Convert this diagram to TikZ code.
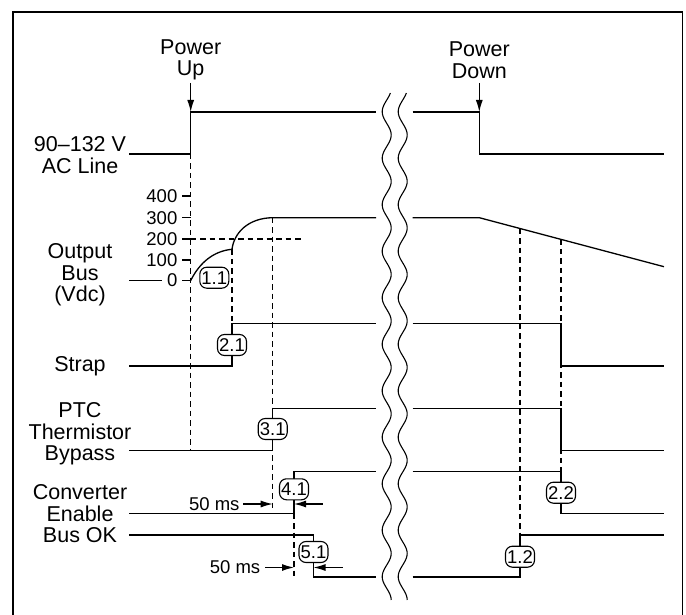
\documentclass[tikz,border=0pt]{standalone}
\usepackage{fontspec}
\setmainfont{Liberation Sans}
\usetikzlibrary{arrows.meta}
\begin{document}
\begin{tikzpicture}[x=1pt,y=-1pt,
  sig/.style={line width=1.3pt, line join=miter},
  wav/.style={line width=1.1pt},
  refl/.style={line width=1.1pt, dash pattern=on 5.5pt off 4pt},
  frm/.style={line width=1.8pt},
  lbl/.style={font=\fontsize{21.5}{21.5}\selectfont, align=center, inner sep=0pt},
  num/.style={font=\fontsize{18.5}{20}\selectfont, inner sep=0pt},
  evt/.style={draw, line width=1.1pt, rounded corners=7pt, fill=white, minimum width=29pt, minimum height=21pt, inner sep=0pt, font=\fontsize{18.5}{20}\selectfont},
  arr/.style={line width=1.2pt, -{Latex[length=12pt,width=7pt]}},
]
\useasboundingbox (0,0) rectangle (686,615);
% frame
\draw[frm] (13,615) -- (13,12) -- (682.5,12) -- (682.5,615);

% break marks
\draw[wav] plot[domain=93:600, samples=220, smooth] ({386.7 - 4.5*cos(deg(2*pi*(\x-111.7)/46.5))}, \x);
\draw[wav] plot[domain=93:600, samples=220, smooth] ({402.7 - 4.5*cos(deg(2*pi*(\x-111.7)/46.5))}, \x);

% event titles
\node[lbl] (pup) at (190.7,60) {Power\\Up};
\node[lbl] (pdn) at (479.3,60) {Power\\Down};
\coordinate (pupa) at (190.7,83);
\coordinate (pupb) at (190.7,112);
\coordinate (pdna) at (479.3,83);
\coordinate (pdnb) at (479.3,112);
\draw[arr] (pupa) -- (pupb);
\draw[arr] (pdna) -- (pdnb);

% row labels
\node[lbl] (lac) at (80,155) {90–132 V\\AC Line};
\node[lbl] (lbus) at (80,275) {Output\\Bus\\(Vdc)};
\node[lbl] (lstrap) at (80,366) {Strap};
\node[lbl] (lptc) at (80,434) {PTC\\Thermistor\\Bypass};
\node[lbl] (lconv) at (80,503) {Converter\\Enable};
\node[lbl] (lok) at (80,535) {Bus OK};

% axis numbers and ticks
\foreach \v/\yy in {400/196,300/217.7,200/239,100/260,0/280.5}{
  \node[num, anchor=east] (n\v) at (177.5,\yy) {\v};
  \draw[sig] (182,\yy) -- (190.7,\yy);
}
\draw[sig] (129,280.5) -- (162,280.5);

% dashed reference lines
\draw[refl] (190.7,154) -- (190.7,450.7);
\draw[refl] (190.7,239) -- (303,239);
\draw[refl] (232,249.3) -- (232,323.5);
\draw[refl] (272.7,217.7) -- (272.7,511.7);
\draw[refl] (294,513.5) -- (294,577);
\draw[refl] (520,228.6) -- (520,535);
\draw[refl] (561,239.4) -- (561,513.5);

% AC line
\draw[sig] (129,154) -- (190.7,154) -- (190.7,112) -- (376,112);
\draw[sig] (412.7,112) -- (479.3,112) -- (479.3,154) -- (664,154);
% output bus
\draw[sig] (190.7,280.5) .. controls (200,262) and (214,251) .. (232,249.3)
  .. controls (234,233) and (248,218) .. (272.7,217.7) -- (376,217.7);
\draw[sig] (412.7,217.7) -- (479.3,217.7) -- (664,266.7);
% strap
\draw[sig] (129,366) -- (232,366) -- (232,323.5) -- (376,323.5);
\draw[sig] (412.7,323.5) -- (561,323.5) -- (561,366) -- (664,366);
% PTC
\draw[sig] (129,450.7) -- (272.7,450.7) -- (272.7,408.3) -- (376,408.3);
\draw[sig] (412.7,408.3) -- (561,408.3) -- (561,450.7) -- (664,450.7);
% converter enable
\draw[sig] (129,513.5) -- (294,513.5) -- (294,471.7) -- (376,471.7);
\draw[sig] (412.7,471.7) -- (561,471.7) -- (561,513.5) -- (664,513.5);
% bus OK
\draw[sig] (129,535) -- (313.5,535) -- (313.5,577) -- (376,577);
\draw[sig] (412.7,577) -- (520,577) -- (520,535) -- (664,535);

% event markers
\node[evt] (e11) at (214.3,277.7) {1.1};
\node[evt] (e21) at (232,345) {2.1};
\node[evt] (e31) at (272.7,429) {3.1};
\node[evt] (e41) at (294,489.3) {4.1};
\node[evt] (e51) at (313.5,552) {5.1};
\node[evt] (e22) at (561,492.7) {2.2};
\node[evt] (e12) at (520,556.7) {1.2};

% 50 ms delays
\node[num] (t50a) at (214.3,504) {50 ms};
\node[num] (t50b) at (235,567.5) {50 ms};
\coordinate (a1s) at (243,504);
\coordinate (a1e) at (272.7,504);
\coordinate (a2s) at (322.7,504);
\coordinate (a2e) at (294,504);
\coordinate (b1s) at (265,567.5);
\coordinate (b1e) at (294,567.5);
\coordinate (b2s) at (342.7,567.5);
\coordinate (b2e) at (313.5,567.5);
\draw[arr] (a1s) -- (a1e);
\draw[arr] (a2s) -- (a2e);
\draw[arr] (b1s) -- (b1e);
\draw[arr] (b2s) -- (b2e);
\end{tikzpicture}
\end{document}
